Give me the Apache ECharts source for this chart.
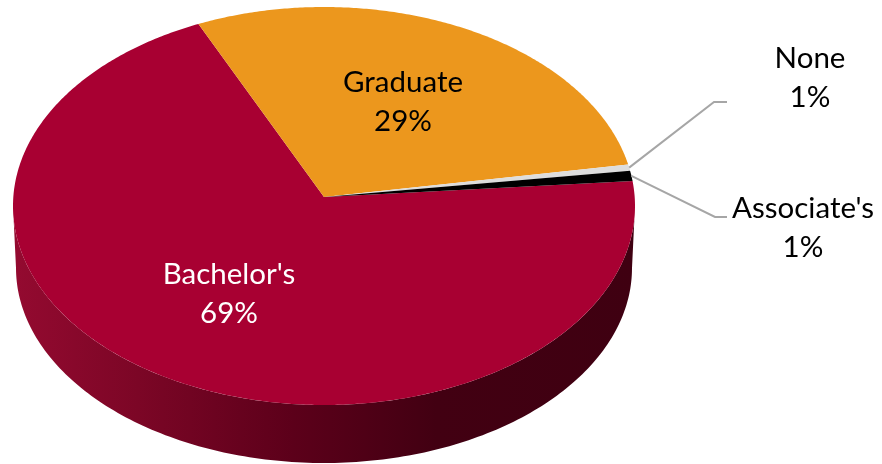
<!DOCTYPE html>
<html>
<head>
<meta charset="utf-8">
<script src="https://cdn.jsdelivr.net/npm/echarts@6/dist/echarts.min.js"></script>
<style>
  html, body { margin: 0; padding: 0; background: #fff; }
  #chart { width: 882px; height: 464px; }
</style>
</head>
<body>
<div id="chart"></div>
<script>
// chart values
const categories = ["Bachelor's", "Graduate", "None", "Associate's"];
const shares = [69.2, 29.45, 0.5, 0.85];
const shareLabels = ["69%", "29%", "1%", "1%"];

// look of the slices and where the texts go
const colors = ["#a80032", "#ec971d", "#dddddd", "#000000"];
const textColors = ["#ffffff", "#000000", "#000000", "#000000"];
const textSpots = [[229, 294], [403, 102], [810, 78], [803, 228]];
const elbows = [null, null, [[714, 102], [727, 102]], [[715, 217], [727, 217]]];

// the tilted pie: top face, its hub, and the lower rim of the wall
const top3d = { cx: 324, cy: 206, rx: 311, ry: 199 };
const hub = [324, 197];
const low3d = { cx: 324, cy: 268, rx: 308, ry: 195 };
const startAngle = 4.2;
const warp = 3; // perspective squeezes the far side a bit

const rimPoint = (e, deg) => {
  const t = deg * Math.PI / 180;
  return [e.cx + e.rx * Math.cos(t), e.cy - e.ry * Math.sin(t)];
};
// angle on the real circle -> angle on the drawn ellipse
const warped = (deg) => deg + warp * Math.cos(deg * Math.PI / 180);

// slices run clockwise from startAngle
const total = shares.reduce((a, b) => a + b, 0);
const spans = [];
let running = startAngle;
shares.forEach((v) => {
  const next = running - v / total * 360;
  spans.push([running, next]);
  running = next;
});

const wallPoints = () => {
  const pts = [];
  for (let d = 180; d <= 360; d += 1) pts.push(rimPoint(top3d, d));
  for (let d = 360; d >= 180; d -= 1) pts.push(rimPoint(low3d, d));
  return pts;
};

const renderSlice = (params, api) => {
  const i = api.value(1);
  const [from, to] = spans[i];
  const children = [];

  // only Bachelor's faces the viewer, so the wall is its own
  if (i === 0) {
    children.push({
      type: "polygon",
      shape: { points: wallPoints() },
      style: {
        fill: new echarts.graphic.LinearGradient(0, 0, 1, 0, [
          { offset: 0, color: "#940a30" },
          { offset: 0.2, color: "#7c0626" },
          { offset: 0.45, color: "#5c001a" },
          { offset: 0.68, color: "#420012" },
          { offset: 1, color: "#3f0011" },
        ]),
      },
    });
  }

  const pts = [hub];
  const steps = Math.max(2, Math.ceil((from - to) * 2));
  for (let s = 0; s <= steps; s++) {
    pts.push(rimPoint(top3d, warped(from + (to - from) * s / steps)));
  }
  children.push({ type: "polygon", shape: { points: pts }, style: { fill: colors[i] } });

  if (elbows[i]) {
    const anchor = rimPoint(top3d, warped((from + to) / 2));
    children.push({
      type: "polyline",
      shape: { points: [anchor, ...elbows[i]] },
      style: { fill: null, stroke: "#a6a6a6", lineWidth: 2 },
      z2: 5,
    });
  }

  children.push({
    type: "text",
    z2: 10,
    style: {
      x: textSpots[i][0],
      y: textSpots[i][1],
      text: categories[i] + "\n" + shareLabels[i],
      align: "center",
      verticalAlign: "middle",
      fontFamily: "Lato",
      fontSize: 29.5,
      lineHeight: 39,
      fill: textColors[i],
    },
  });

  return { type: "group", children };
};

const myChart = echarts.init(document.getElementById("chart"));
myChart.setOption({
  animation: false,
  backgroundColor: "#ffffff",
  series: [
    {
      type: "custom",
      coordinateSystem: "none",
      clip: false,
      renderItem: renderSlice,
      data: shares.map((v, i) => [v, i]),
    },
  ],
});
</script>
</body>
</html>
